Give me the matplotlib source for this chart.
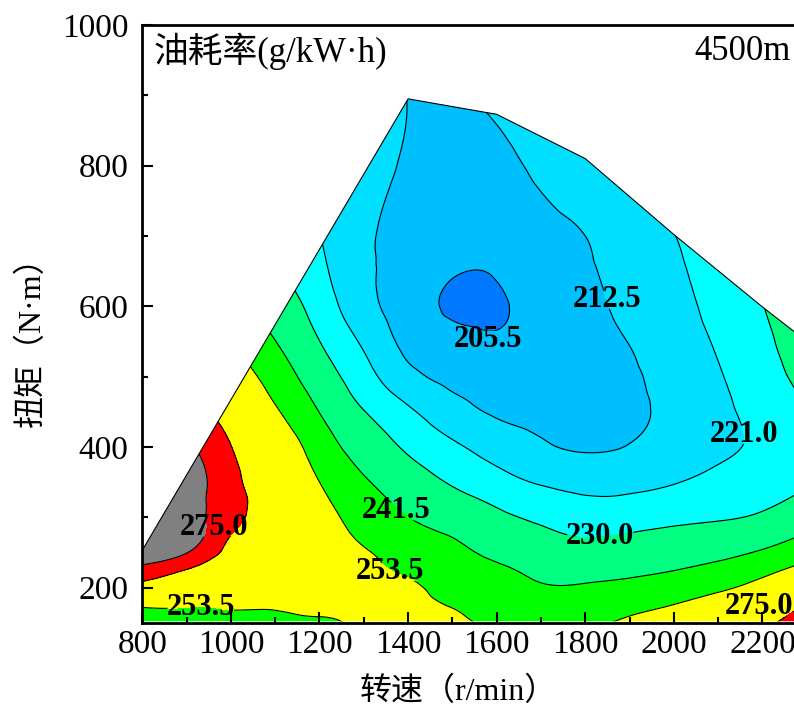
import numpy as np
import matplotlib
matplotlib.use('Agg')
import matplotlib.pyplot as plt
import matplotlib.tri as mtri
from matplotlib.path import Path
from matplotlib.ticker import MultipleLocator

plt.rcParams['font.family'] = ['Liberation Serif', 'Noto Sans CJK SC']

# grid of the map: engine speed (r/min) x torque (N·m)
speeds = [800, 900, 1000, 1100, 1200, 1300, 1400, 1500,
          1600, 1700, 1800, 1900, 2000, 2100, 2200, 2300]
torques = [150, 175, 200, 225, 250, 300, 350, 400, 450, 500, 550, 600, 650, 700, 800, 900]

# specific fuel consumption g/kW·h, one row per torque
bsfc_t150 = [249.5, 250.0, 250.8, 251.8, 253.0, 254.3, 255.3, 254.6, 252.2, 249.5, 250.8, 255.5, 260.0, 266.0, 272.0, 284.0]
bsfc_t175 = [255.1, 254.5, 254.4, 254.5, 254.6, 255.3, 255.4, 253.1, 250.0, 246.2, 246.5, 250.1, 253.7, 258.9, 265.0, 276.0]
bsfc_t200 = [269.2, 265.0, 260.4, 258.5, 257.5, 256.2, 255.0, 250.3, 247.2, 242.5, 242.5, 244.4, 247.5, 251.5, 257.7, 268.0]
bsfc_t225 = [290.0, 274.5, 268.5, 263.0, 260.7, 256.3, 251.7, 247.3, 243.5, 239.0, 238.2, 239.3, 241.3, 244.6, 250.2, 257.9]
bsfc_t250 = [310.0, 297.5, 270.0, 266.5, 260.5, 254.5, 248.3, 244.2, 239.0, 235.5, 233.8, 234.8, 236.6, 238.7, 242.7, 249.2]
bsfc_t300 = [335.0, 310.0, 281.0, 267.0, 257.9, 248.8, 241.6, 237.0, 231.9, 228.3, 225.3, 226.2, 227.8, 229.1, 231.3, 236.9]
bsfc_t350 = [325.0, 310.3, 281.0, 265.0, 253.5, 242.8, 235.1, 229.1, 224.3, 220.2, 218.3, 218.5, 220.6, 223.1, 225.5, 229.0]
bsfc_t400 = [312.0, 300.2, 275.4, 261.5, 247.8, 236.4, 228.6, 222.5, 217.2, 213.4, 211.8, 212.8, 216.0, 219.5, 222.5, 227.0]
bsfc_t450 = [295.0, 282.0, 268.4, 255.0, 241.3, 230.3, 222.4, 215.5, 211.8, 211.0, 211.2, 211.6, 214.3, 219.0, 223.8, 228.5]
bsfc_t500 = [288.0, 275.0, 261.5, 248.2, 235.3, 224.4, 214.8, 211.0, 209.8, 209.3, 210.9, 211.8, 215.2, 220.3, 226.3, 233.0]
bsfc_t550 = [272.0, 264.9, 253.4, 241.7, 230.1, 219.6, 210.5, 207.8, 206.5, 208.9, 210.8, 212.7, 217.2, 221.9, 228.3, 233.5]
bsfc_t600 = [265.0, 257.0, 247.2, 236.4, 226.0, 215.3, 209.0, 204.5, 204.7, 207.8, 210.8, 214.3, 218.5, 223.5, 229.8, 235.0]
bsfc_t650 = [262.0, 251.5, 241.9, 231.8, 223.0, 214.0, 210.3, 206.4, 206.1, 209.4, 211.7, 215.3, 219.5, 225.1, 231.5, 237.0]
bsfc_t700 = [256.0, 246.7, 237.1, 228.4, 221.2, 213.8, 211.0, 209.6, 208.6, 210.8, 212.5, 216.6, 220.8, 226.8, 232.8, 238.5]
bsfc_t800 = [243.0, 236.5, 230.3, 224.3, 219.5, 215.5, 211.8, 211.2, 211.4, 213.6, 216.5, 219.6, 224.0, 229.8, 235.0, 240.0]
bsfc_t900 = [244.0, 237.0, 231.0, 225.5, 220.5, 216.5, 212.4, 212.2, 213.0, 215.0, 218.0, 221.5, 225.5, 230.0, 235.0, 240.0]

# full-load torque curve, the map is only drawn below it
limit_speed = [800, 1400, 1600, 1800, 2000, 2200, 2300]
limit_torque = [253, 895, 873, 810, 702, 599, 550]
min_torque = 152

levels = [205.5, 212.5, 221.0, 230.0, 241.5, 253.5, 275.0, 296.5]
fill_colors = ['#0078ff', '#00bfff', '#00dfff', '#00ffff', '#00ff80',
               '#00ff00', '#ffff00', '#ff0000', '#808080']

# contour labels
label_levels = [205.5, 212.5, 221.0, 230.0, 241.5, 253.5, 253.5, 275.0, 275.0]
label_speed = [1581, 1849, 2158, 1834, 1374, 1359, 932, 961, 2193]
label_torque = [553, 610, 418, 273, 309, 222.5, 171.6, 286, 172.7]

Z = np.array([bsfc_t150, bsfc_t175, bsfc_t200, bsfc_t225, bsfc_t250, bsfc_t300,
              bsfc_t350, bsfc_t400, bsfc_t450, bsfc_t500, bsfc_t550, bsfc_t600,
              bsfc_t650, bsfc_t700, bsfc_t800, bsfc_t900])

# smooth the grid with a cubic interpolation on a fine mesh
S, T = np.meshgrid(speeds, torques)
ns, nt = len(speeds), len(torques)
idx = np.arange(ns * nt).reshape(nt, ns)
a = idx[:-1, :-1].ravel()
b = idx[:-1, 1:].ravel()
c = idx[1:, 1:].ravel()
d = idx[1:, :-1].ravel()
triangles = np.concatenate([np.column_stack([a, b, c]), np.column_stack([a, c, d])])
sx, sy = 1 / 100.0, 1 / 63.0
tri = mtri.Triangulation(S.ravel() * sx, T.ravel() * sy, triangles)
interp = mtri.CubicTriInterpolator(tri, Z.ravel(), kind='min_E')
xs = np.linspace(speeds[0], speeds[-1], 450)
ys = np.linspace(torques[0], torques[-1], 450)
XX, YY = np.meshgrid(xs, ys)
ZZ = interp(XX * sx, YY * sy)

fig = plt.figure(figsize=(7.94, 7.11), dpi=100)
ax = fig.add_axes([0.1792, 0.1242, 0.8927, 0.8406])

cf = ax.contourf(XX, YY, ZZ, levels=[150] + levels + [400], colors=fill_colors)
cl = ax.contour(XX, YY, ZZ, levels=levels, colors='k', linewidths=0.8)

env = [(800, min_torque), (limit_speed[-1], min_torque)] + \
      list(zip(limit_speed[::-1], limit_torque[::-1]))
env_path = Path(env + [env[0]], closed=True)
cf.set_clip_path(env_path, ax.transData)
ax.plot(limit_speed, limit_torque, color='k', lw=0.8)

texts = []
for lv, sp, tq in zip(label_levels, label_speed, label_torque):
    texts.append(ax.text(sp, tq, f'{lv:.1f}', ha='center', va='center',
                         fontsize=22, fontweight='bold', zorder=5))

ax.set_xlim(800, 2400)
ax.set_ylim(150, 1000)
ax.set_xticks([800, 1000, 1200, 1400, 1600, 1800, 2000, 2200])
ax.set_yticks([200, 400, 600, 800, 1000])
ax.xaxis.set_minor_locator(MultipleLocator(100))
ax.yaxis.set_minor_locator(MultipleLocator(100))
ax.tick_params(which='both', direction='in', width=1.5, labelsize=24)
ax.tick_params(which='major', length=8)
ax.tick_params(which='minor', length=4.3)
ax.tick_params(axis='x', pad=5)
ax.tick_params(axis='y', pad=10)
for sp in ax.spines.values():
    sp.set_linewidth(2)

fig.text(154 / 794, 1 - 51 / 711, '油耗率(g/kW·h)', fontsize=25, ha='left', va='center')
fig.text(791 / 794, 1 - 51 / 711, '4500m', fontsize=25, ha='right', va='center')
fig.text(458 / 794, 1 - 692 / 711, '转速（r/min）', fontsize=23, ha='center', va='center')
fig.text(32 / 794, 1 - 334 / 711, '扭矩（N·m）', fontsize=23, ha='center', va='center',
         rotation=90)

# cut the contour lines where the labels sit
fig.canvas.draw()
renderer = fig.canvas.get_renderer()
inv = ax.transData.inverted()
verts = list(env) + [env[0]]
codes = [Path.MOVETO] + [Path.LINETO] * (len(env) - 1) + [Path.CLOSEPOLY]
for t in texts:
    bb = t.get_window_extent(renderer)
    (x0, y0), (x1, y1) = inv.transform([[bb.x0 + 1, bb.y0 + 5], [bb.x1 - 1, bb.y1 - 6]])
    verts += [(x0, y0), (x0, y1), (x1, y1), (x1, y0), (x0, y0)]
    codes += [Path.MOVETO, Path.LINETO, Path.LINETO, Path.LINETO, Path.CLOSEPOLY]
cl.set_clip_path(Path(verts, codes), ax.transData)

fig.savefig('out.png', dpi=100)
